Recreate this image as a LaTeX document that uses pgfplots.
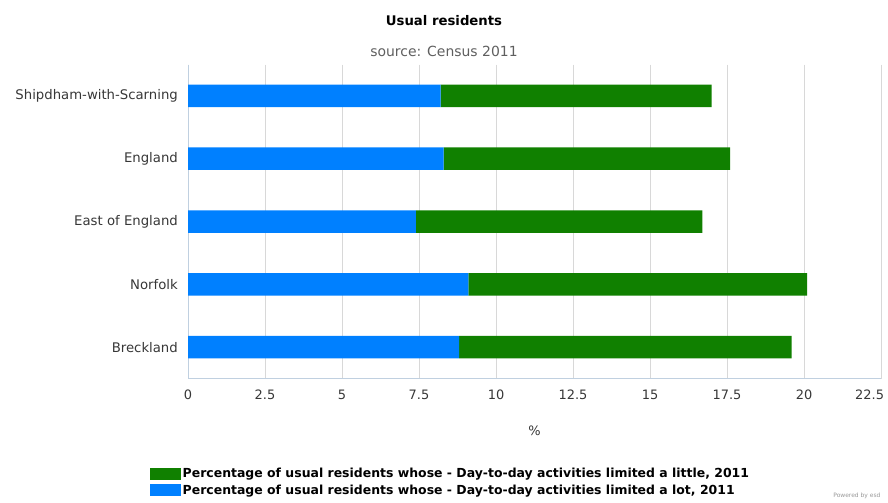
\documentclass[border=0pt]{standalone}
\usepackage{pgfplots}
\pgfplotsset{compat=1.18}
\usepackage{fontspec}
\setmainfont{DejaVu Sans}
\definecolor{blueb}{RGB}{0,128,255}
\definecolor{greenb}{RGB}{16,128,0}
\definecolor{gridc}{RGB}{216,216,216}
\definecolor{axc}{RGB}{192,208,224}
\definecolor{txt}{RGB}{55,55,55}
\begin{document}
\begin{tikzpicture}
\useasboundingbox (0,0) rectangle (888bp,503bp);
\begin{axis}[
  at={(188bp,124.5bp)}, anchor=south west,
  scale only axis, width=693bp, height=314bp,
  xbar stacked, bar width=22.5bp,
  xmin=0, xmax=22.5, ymin=-0.5, ymax=4.5, y dir=reverse,
  xtick={0,2.5,5,7.5,10,12.5,15,17.5,20,22.5},
  xticklabels={0,2.5,5,7.5,10,12.5,15,17.5,20,\makebox[0pt][r]{22.5\hspace{-3bp}}},
  ytick={0,1,2,3,4},
  yticklabels={Shipdham-with-Scarning,England,East of England,Norfolk,Breckland},
  xmajorgrids, major grid style={gridc, line width=0.8bp},
  axis x line*=bottom, axis y line*=left,
  axis line style={axc, line width=0.8bp, -},
  tick style={draw=none},
  yticklabel style={inner sep=0pt, xshift=-10bp, font=\fontsize{13.3}{15}\selectfont, text=txt},
  xticklabel style={inner sep=0pt, yshift=-11bp, font=\fontsize{13}{15}\selectfont, text=txt},
  xlabel={\%},
  every axis x label/.style={at={(axis description cs:0.5,-0.165)}, anchor=center, font=\fontsize{13}{15}\selectfont, text=txt},
  reverse legend,
  legend style={at={(axis description cs:-0.0548,-0.281)}, anchor=north west, draw=none, fill=none,
    font=\bfseries\fontsize{12.5}{14}\selectfont, text=black, row sep=2.5bp, inner sep=0pt,
    nodes={inner sep=1.5bp}},
  legend cell align=left,
  legend image code/.code={\fill[#1,draw=none] (0bp,-6bp) rectangle (31bp,6bp);},
]
\addplot[fill=blueb, draw=none] coordinates {(8.2,0) (8.3,1) (7.4,2) (9.1,3) (8.8,4)};
\addlegendentry{Percentage of usual residents whose - Day-to-day activities limited a lot, 2011}
\addplot[fill=greenb, draw=none] coordinates {(8.8,0) (9.3,1) (9.3,2) (11.0,3) (10.8,4)};
\addlegendentry{Percentage of usual residents whose - Day-to-day activities limited a little, 2011}
\end{axis}
\node[font=\bfseries\fontsize{13.3}{15}\selectfont, text=black] at (444bp,482bp) {Usual residents};
\node[font=\fontsize{14}{16}\selectfont, text=txt!80] at (444bp,452bp) {source: Census 2011};
\node[font=\fontsize{6}{7}\selectfont, text=black!40, anchor=south east] at (884bp,1bp) {Powered by esd};
\end{tikzpicture}
\end{document}
